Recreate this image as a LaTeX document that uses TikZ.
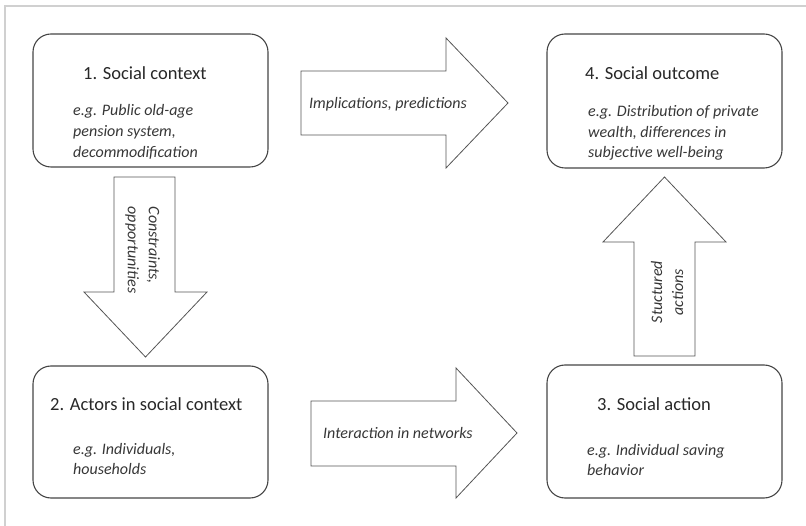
\documentclass[tikz,border=0pt]{standalone}
\usepackage{fontspec}
\setmainfont{Carlito}
\definecolor{frameC}{RGB}{208,208,208}
\definecolor{lineC}{RGB}{70,70,70}
\definecolor{arrC}{RGB}{85,85,85}
\definecolor{txtC}{RGB}{40,40,40}
\definecolor{itC}{RGB}{55,55,55}
\tikzset{
  boxstyle/.style={draw=lineC, line width=1.1pt, rounded corners=18pt, fill=white, inner sep=0pt},
  blockarrow/.style={draw=arrC, line width=0.8pt, fill=white, line join=miter},
  titletxt/.style={anchor=base west, inner sep=0pt, text=txtC, font=\fontsize{18.5}{22}\selectfont},
  ittxt/.style={anchor=base west, inner sep=0pt, text=itC, font=\fontsize{16}{21}\selectfont\itshape},
  rottxt/.style={inner sep=0pt, text=itC, font=\fontsize{16}{21}\selectfont\itshape}
}
\begin{document}
\begin{tikzpicture}[x=1pt,y=-1pt]
\useasboundingbox (0,0) rectangle (806,526);
% frame
\draw[frameC, line width=1.5pt] (5,526) -- (5,6) -- (806,6);
% boxes
\node[boxstyle, minimum width=235pt, minimum height=133pt] (b1) at (150.5,100.5) {};
\node[boxstyle, minimum width=235pt, minimum height=134pt] (b4) at (664.5,101) {};
\node[boxstyle, minimum width=235pt, minimum height=132pt] (b2) at (150.5,432) {};
\node[boxstyle, minimum width=235pt, minimum height=133pt] (b3) at (664.5,431.5) {};
% box 1 texts
\node[titletxt] (t1) at (83,80) {1. Social context};
\node[ittxt] (d1a) at (73,116) {e.g. Public old-age};
\node[ittxt] (d1b) at (73,137) {pension system,};
\node[ittxt] (d1c) at (73,158) {decommodification};
% box 4 texts
\node[titletxt] (t4) at (585,80) {4. Social outcome};
\node[ittxt] (d4a) at (588,117) {e.g. Distribution of private};
\node[ittxt] (d4b) at (588,137.5) {wealth, differences in};
\node[ittxt] (d4c) at (588,158) {subjective well-being};
% box 2 texts
\node[titletxt] (t2) at (50,410) {2. Actors in social context};
\node[ittxt] (d2a) at (73,454.5) {e.g. Individuals,};
\node[ittxt] (d2b) at (73,475) {households};
% box 3 texts
\node[titletxt] (t3) at (597,410) {3. Social action};
\node[ittxt] (d3a) at (587,455) {e.g. Individual saving};
\node[ittxt] (d3b) at (587,475.5) {behavior};
% top block arrow
\draw[blockarrow] (301,71) -- (446,71) -- (446,38) -- (508,103) -- (446,168) -- (446,135) -- (301,135) -- cycle;
\node[ittxt] (a1) at (309,108.5) {Implications, predictions};
% bottom block arrow
\draw[blockarrow] (311,401) -- (456,401) -- (456,368) -- (517,433) -- (456,498) -- (456,466) -- (311,466) -- cycle;
\node[ittxt] (a2) at (323,438.5) {Interaction in networks};
% down block arrow
\draw[blockarrow] (114,177) -- (175,177) -- (175,292) -- (207,292) -- (145.5,357) -- (84,292) -- (114,292) -- cycle;
\node[rottxt, rotate=-90, align=left] (a3) at (142.5,250) {Constraints,\\opportunities};
% up block arrow
\draw[blockarrow] (634,356) -- (695,356) -- (695,242) -- (726,242) -- (664.5,177) -- (603,242) -- (634,242) -- cycle;
\node[rottxt, rotate=90, align=center] (a4) at (667,292) {Stuctured\\actions};
\end{tikzpicture}
\end{document}
